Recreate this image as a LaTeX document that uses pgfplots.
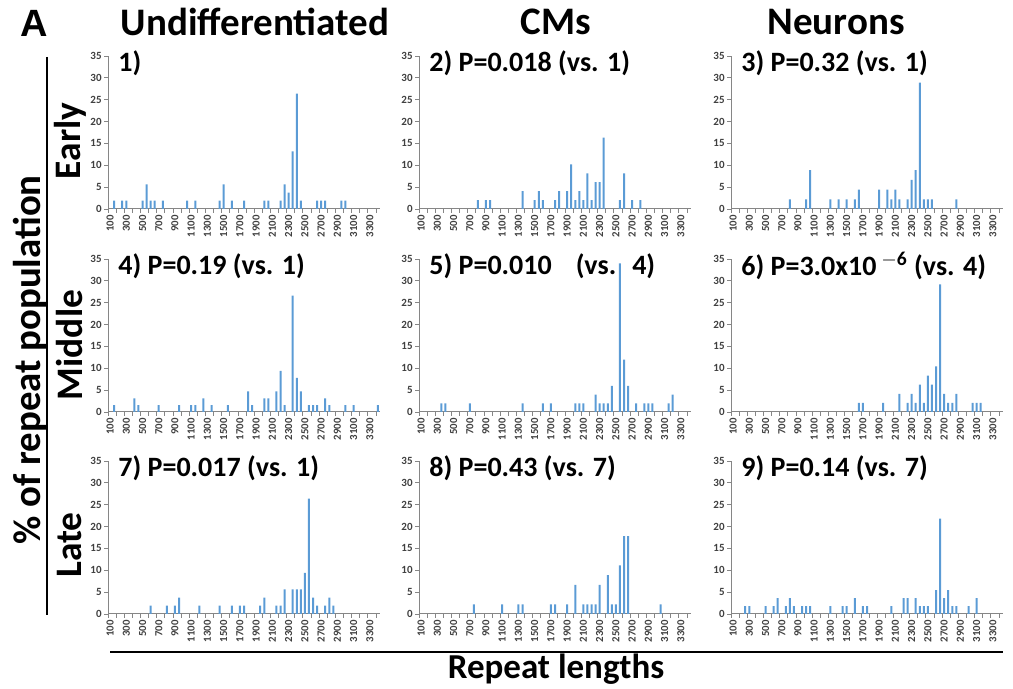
\documentclass[border=0pt]{standalone}
\usepackage{fontspec}
\setmainfont{Carlito}
\newfontfamily\arialfont{Liberation Sans}
\usepackage{pgfplots}
\pgfplotsset{compat=1.18}
\definecolor{barblue}{RGB}{91,155,213}
\definecolor{axgray}{RGB}{134,134,134}
\definecolor{lblgray}{RGB}{64,64,64}
\newcommand{\ttl}{\fontsize{14}{16}\selectfont\bfseries}
\newcommand{\hdr}{\fontsize{19.5}{21}\selectfont\bfseries}
\pgfplotsset{
  bars/.style={ybar, bar width=1pt, fill=barblue, draw=none},
  panel/.style={
    scale only axis, width=136pt, height=76.5pt,
    anchor=south west, clip=false,
    xmin=75, xmax=3425, ymin=0, ymax=35,
    axis x line*=bottom, axis y line*=left,
    axis line style={draw=axgray, line width=0.5pt},
    ytick={0,5,...,35},
    xtick={100,300,...,3300},
    minor xtick={75,175,...,3375},
    tick align=outside,
    major tick length=2pt, minor tick length=2pt,
    major x tick style={draw=none},
    tick style={axgray, line width=0.4pt},
    /pgf/number format/assume math mode=true,
    /pgf/number format/1000 sep={},
    yticklabel style={font=\fontsize{5.5}{6}\selectfont\bfseries, text=lblgray, inner sep=1pt},
    xticklabel style={font=\fontsize{5.4}{6}\selectfont\bfseries, text=lblgray, rotate=90, anchor=east, inner sep=1pt},
  }
}
\begin{document}
\begin{tikzpicture}
\useasboundingbox (0,0) rectangle (506.5pt,-344.5pt);

% row 1
\begin{axis}[panel, at={(54pt,-104.5pt)}]
\addplot[bars] coordinates {(150,1.89)(250,1.89)(300,1.89)(500,1.89)(550,5.66)(600,1.89)(650,1.89)(750,1.89)(1050,1.89)(1150,1.89)(1450,1.89)(1500,5.66)(1600,1.89)(1750,1.89)(2000,1.89)(2050,1.89)(2200,1.89)(2250,5.66)(2300,3.77)(2350,13.2)(2400,26.4)(2450,1.89)(2650,1.89)(2700,1.89)(2750,1.89)(2950,1.89)(3000,1.89)};
\node[anchor=west, font=\ttl, inner sep=0pt, xshift=5pt, yshift=-3.5pt] at (rel axis cs:0,1) {1)};
\end{axis}
\begin{axis}[panel, at={(209.5pt,-104.5pt)}]
\addplot[bars] coordinates {(800,2.04)(900,2.04)(950,2.04)(1350,4.08)(1500,2.04)(1550,4.08)(1600,2.04)(1750,2.04)(1800,4.08)(1900,4.08)(1950,10.2)(2000,2.04)(2050,4.08)(2100,2.04)(2150,8.16)(2200,2.04)(2250,6.12)(2300,6.12)(2350,16.33)(2550,2.04)(2600,8.16)(2700,2.04)(2800,2.04)};
\node[anchor=west, font=\ttl, inner sep=0pt, xshift=5pt, yshift=-3.5pt] at (rel axis cs:0,1) {2) P=0.018 (vs. 1)};
\end{axis}
\begin{axis}[panel, at={(365.5pt,-104.5pt)}]
\addplot[bars] coordinates {(800,2.22)(1000,2.22)(1050,8.89)(1300,2.22)(1400,2.22)(1500,2.22)(1600,2.22)(1650,4.44)(1900,4.44)(2000,4.44)(2050,2.22)(2100,4.44)(2150,2.22)(2250,2.22)(2300,6.67)(2350,8.89)(2400,28.9)(2450,2.22)(2500,2.22)(2550,2.22)(2850,2.22)};
\node[anchor=west, font=\ttl, inner sep=0pt, xshift=5pt, yshift=-3.5pt] at (rel axis cs:0,1) {3) P=0.32 (vs. 1)};
\end{axis}

% row 2
\begin{axis}[panel, at={(54pt,-206pt)}]
\addplot[bars] coordinates {(150,1.56)(400,3.13)(450,1.56)(700,1.56)(950,1.56)(1100,1.56)(1150,1.56)(1250,3.13)(1350,1.56)(1550,1.56)(1800,4.69)(1850,1.56)(2000,3.13)(2050,3.13)(2150,4.69)(2200,9.38)(2250,1.56)(2350,26.6)(2400,7.81)(2450,4.69)(2550,1.56)(2600,1.56)(2650,1.56)(2750,3.13)(2800,1.56)(3000,1.56)(3100,1.56)(3400,1.56)};
\node[anchor=west, font=\ttl, inner sep=0pt, xshift=5pt, yshift=-3.5pt] at (rel axis cs:0,1) {4) P=0.19 (vs. 1)};
\end{axis}
\begin{axis}[panel, at={(209.5pt,-206pt)}]
\addplot[bars] coordinates {(350,2)(400,2)(700,2)(1350,2)(1600,2)(1700,2)(2000,2)(2050,2)(2100,2)(2250,4)(2300,2)(2350,2)(2400,2)(2450,6)(2550,34)(2600,12)(2650,6)(2750,2)(2850,2)(2900,2)(2950,2)(3150,2)(3200,4)};
\node[anchor=west, font=\ttl, inner sep=0pt, xshift=5pt, yshift=-3.5pt] at (rel axis cs:0,1) {5) P=0.010\hspace{12pt}(vs.\hspace{8pt}4)};
\end{axis}
\begin{axis}[panel, at={(365.5pt,-206pt)}]
\addplot[bars] coordinates {(1650,2.08)(1700,2.08)(1950,2.08)(2150,4.17)(2250,2.08)(2300,4.17)(2350,2.08)(2400,6.25)(2450,2.08)(2500,8.33)(2550,6.25)(2600,10.42)(2650,29.17)(2700,4.17)(2750,2.08)(2800,2.08)(2850,4.17)(3050,2.08)(3100,2.08)(3150,2.08)};
\node[anchor=west, font=\ttl, inner sep=0pt, xshift=5pt, yshift=-3.5pt] at (rel axis cs:0,1) {6) P=3.0x10\,\textsuperscript{$-$6} (vs. 4)};
\end{axis}

% row 3
\begin{axis}[panel, at={(54pt,-307pt)}]
\addplot[bars] coordinates {(600,1.89)(800,1.89)(900,1.89)(950,3.77)(1200,1.89)(1450,1.89)(1600,1.89)(1700,1.89)(1750,1.89)(1950,1.89)(2000,3.77)(2150,1.89)(2200,1.89)(2250,5.66)(2350,5.66)(2400,5.66)(2450,5.66)(2500,9.43)(2550,26.4)(2600,3.77)(2650,1.89)(2750,1.89)(2800,3.77)(2850,1.89)};
\node[anchor=west, font=\ttl, inner sep=0pt, xshift=5pt, yshift=-3.5pt] at (rel axis cs:0,1) {7) P=0.017 (vs. 1)};
\end{axis}
\begin{axis}[panel, at={(209.5pt,-307pt)}]
\addplot[bars] coordinates {(750,2.22)(1100,2.22)(1300,2.22)(1350,2.22)(1700,2.22)(1750,2.22)(1900,2.22)(2000,6.67)(2100,2.22)(2150,2.22)(2200,2.22)(2250,2.22)(2300,6.67)(2400,8.89)(2450,2.22)(2500,2.22)(2550,11.1)(2600,17.8)(2650,17.8)(3050,2.22)};
\node[anchor=west, font=\ttl, inner sep=0pt, xshift=5pt, yshift=-3.5pt] at (rel axis cs:0,1) {8) P=0.43 (vs. 7)};
\end{axis}
\begin{axis}[panel, at={(365.5pt,-307pt)}]
\addplot[bars] coordinates {(250,1.82)(300,1.82)(500,1.82)(600,1.82)(650,3.64)(750,1.82)(800,3.64)(850,1.82)(950,1.82)(1000,1.82)(1050,1.82)(1300,1.82)(1450,1.82)(1500,1.82)(1600,3.64)(1700,1.82)(1750,1.82)(2050,1.82)(2200,3.64)(2250,3.64)(2350,3.64)(2400,1.82)(2450,1.82)(2500,1.82)(2600,5.45)(2650,21.8)(2700,3.64)(2750,5.45)(2800,1.82)(2850,1.82)(3000,1.82)(3100,3.64)};
\node[anchor=west, font=\ttl, inner sep=0pt, xshift=5pt, yshift=-3.5pt] at (rel axis cs:0,1) {9) P=0.14 (vs. 7)};
\end{axis}

% labels around the grid
\node[font=\arialfont\fontsize{19}{21}\selectfont\bfseries, inner sep=0pt] at (17pt,-11.5pt) {A};
\node[font=\hdr, inner sep=0pt] at (127.5pt,-11pt) {Undifferentiated};
\node[font=\hdr, inner sep=0pt] at (278pt,-11pt) {CMs};
\node[font=\hdr, inner sep=0pt] at (418pt,-11pt) {Neurons};
\node[font=\fontsize{18.7}{20}\selectfont\bfseries, rotate=90, inner sep=0pt] at (35pt,-70.5pt) {Early};
\node[font=\fontsize{18.7}{20}\selectfont\bfseries, rotate=90, inner sep=0pt] at (35pt,-172.5pt) {Middle};
\node[font=\fontsize{18.7}{20}\selectfont\bfseries, rotate=90, inner sep=0pt] at (35pt,-272.5pt) {Late};
\node[font=\fontsize{19.4}{21}\selectfont\bfseries, rotate=90, inner sep=0pt] at (15pt,-180pt) {\% of repeat population};
\draw[line width=1pt] (23.5pt,-28.5pt) -- (23.5pt,-307.5pt);
\draw[line width=1pt] (55pt,-326pt) -- (501.5pt,-326pt);
\node[font=\fontsize{17.5}{19}\selectfont\bfseries, inner sep=0pt] at (278pt,-334.5pt) {Repeat lengths};
\end{tikzpicture}
\end{document}
